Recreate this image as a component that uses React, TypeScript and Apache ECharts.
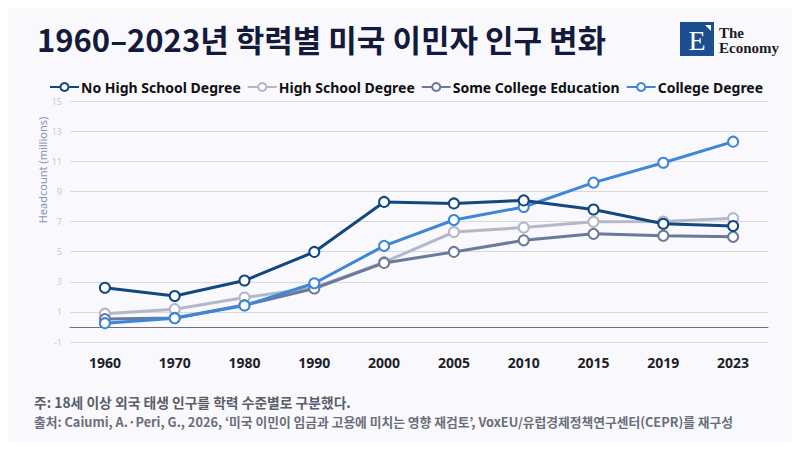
import React, { useEffect, useRef } from "react";
import * as echarts from "echarts";

const years = ["1960", "1970", "1980", "1990", "2000", "2005", "2010", "2015", "2019", "2023"];
const noHighSchool = [2.6, 2.05, 3.08, 4.98, 8.3, 8.2, 8.4, 7.8, 6.85, 6.7];
const highSchool = [0.88, 1.18, 1.95, 2.6, 4.3, 6.3, 6.6, 6.98, 7.0, 7.22];
const someCollege = [0.52, 0.6, 1.45, 2.55, 4.25, 4.98, 5.75, 6.18, 6.05, 5.98];
const collegeDegree = [0.25, 0.58, 1.42, 2.9, 5.38, 7.1, 7.96, 9.58, 10.9, 12.3];
const seriesNames = ["No High School Degree", "High School Degree", "Some College Education", "College Degree"];
const seriesColors = ["#12487f", "#b4b8c6", "#6b7a9b", "#3e86d6"];
const yTicks = { min: -1, max: 15, step: 2 };

const titleText = "1960–2023년 학력별 미국 이민자 인구 변화";
const yAxisTitle = "Headcount (millions)";
const noteText = "주: 18세 이상 외국 태생 인구를 학력 수준별로 구분했다.";
const sourceText = "출처: Caiumi, A.·Peri, G., 2026, ‘미국 이민이 임금과 고용에 미치는 영향 재검토’, VoxEU/유럽경제정책연구센터(CEPR)를 재구성";

export default function App() {
  const ref = useRef<HTMLDivElement>(null);
  useEffect(() => {
    const chart = echarts.init(ref.current!, null, { renderer: "svg" });
    const data = [noHighSchool, highSchool, someCollege, collegeDegree];
    chart.setOption({
      animation: false,
      backgroundColor: "#f8f8fd",
      title: {
        text: titleText,
        left: 32,
        top: 18,
        textStyle: {
          fontFamily: "Noto Sans CJK KR",
          fontWeight: "bold",
          fontSize: 31,
          color: "#141a3a",
        },
      },
      legend: {
        data: seriesNames,
        left: 49,
        top: 80,
        padding: 0,
        itemWidth: 29,
        itemHeight: 10,
        itemGap: 6,
        textStyle: {
          fontFamily: "Noto Sans",
          fontWeight: "bold",
          fontSize: 14,
          color: "#111",
          padding: [0, 0, 0, -3],
        },
      },
      grid: { left: 70, right: 32, top: 101, bottom: 108 },
      xAxis: {
        type: "category",
        data: years,
        boundaryGap: true,
        axisLine: { onZero: true, lineStyle: { color: "#6e7280", width: 1 } },
        axisTick: { show: false },
        axisLabel: {
          margin: 13,
          fontFamily: "Noto Sans",
          fontWeight: "bold",
          fontSize: 14,
          color: "#1e1e28",
        },
      },
      yAxis: {
        type: "value",
        min: yTicks.min,
        max: yTicks.max,
        interval: yTicks.step,
        axisLine: { show: false },
        axisTick: { show: false },
        axisLabel: { fontFamily: "Noto Sans", fontSize: 9, color: "#c8cbd8", margin: 8 },
        splitLine: { lineStyle: { color: "#d8dae2", width: 1 } },
      },
      series: data.map((d, i) => ({
        name: seriesNames[i],
        type: "line",
        data: d,
        symbol: "emptyCircle",
        symbolSize: 10,
        z: i === 0 ? 5 : i === 3 ? 4 : i === 2 ? 3 : 2,
        lineStyle: { color: seriesColors[i], width: 3 },
        itemStyle: { color: seriesColors[i], borderColor: seriesColors[i], borderWidth: 3 },
      })),
      graphic: [
        {
          type: "text",
          x: 42,
          y: 170,
          rotation: Math.PI / 2,
          style: {
            text: yAxisTitle,
            font: "11px 'Noto Sans'",
            fill: "#8a93aa",
            align: "center",
            verticalAlign: "middle",
          },
        },
        {
          type: "text",
          left: 34,
          top: 395,
          style: {
            text: noteText,
            font: "bold 13.8px 'Noto Sans CJK KR'",
            fill: "#5a5e6a",
          },
        },
        {
          type: "text",
          left: 34,
          top: 415,
          style: {
            text: sourceText,
            font: "bold 12.75px 'Noto Sans CJK KR'",
            fill: "#6a6e7a",
          },
        },
        {
          type: "rect",
          shape: { x: 680, y: 22, width: 34, height: 34 },
          style: { fill: "#1d4e8f" },
        },
        {
          type: "polygon",
          shape: { points: [[705, 25], [711, 25], [711, 31]] },
          style: { fill: "#ffffff" },
        },
        {
          type: "text",
          x: 697,
          y: 40,
          style: {
            text: "E",
            font: "28px 'Liberation Serif'",
            fill: "#ffffff",
            align: "center",
            verticalAlign: "middle",
          },
        },
        {
          type: "text",
          x: 719,
          y: 25,
          style: { text: "The", font: "bold 15px 'Liberation Serif'", fill: "#1c1c24" },
        },
        {
          type: "text",
          x: 719,
          y: 40,
          style: { text: "Economy", font: "bold 15px 'Liberation Serif'", fill: "#1c1c24" },
        },
      ],
    });
    return () => chart.dispose();
  }, []);
  return <div ref={ref} style={{ width: 800, height: 450, margin: -8 }} />;
}
